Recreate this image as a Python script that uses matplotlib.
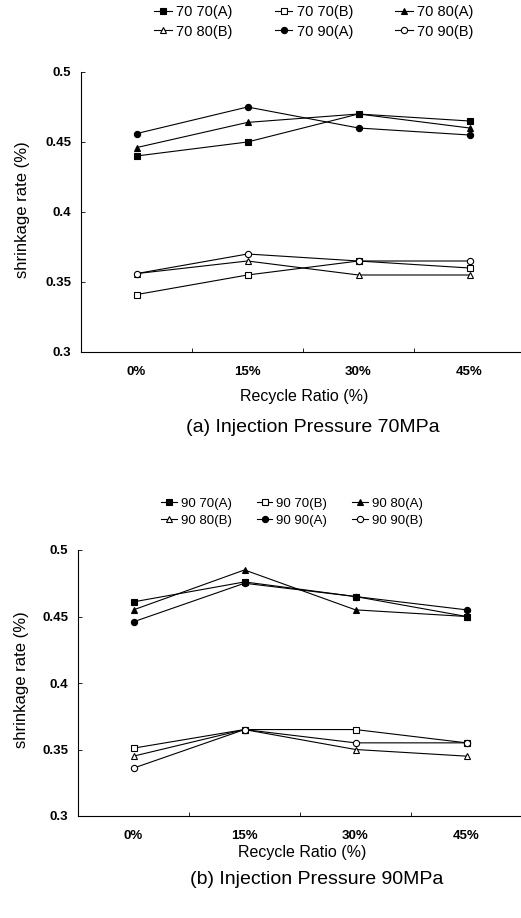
import matplotlib
matplotlib.use("Agg")
import matplotlib.pyplot as plt

plt.rcParams['font.family'] = ['Liberation Sans', 'DejaVu Sans']

ratios = ['0%', '15%', '30%', '45%']

# injection pressure 70MPa
p70_7070A = [0.440, 0.450, 0.470, 0.465]
p70_7070B = [0.341, 0.355, 0.365, 0.360]
p70_7080A = [0.446, 0.464, 0.470, 0.460]
p70_7080B = [0.356, 0.365, 0.355, 0.355]
p70_7090A = [0.456, 0.475, 0.460, 0.455]
p70_7090B = [0.356, 0.370, 0.365, 0.365]

# injection pressure 90MPa
p90_9070A = [0.461, 0.476, 0.465, 0.450]
p90_9070B = [0.351, 0.365, 0.365, 0.355]
p90_9080A = [0.455, 0.485, 0.455, 0.450]
p90_9080B = [0.345, 0.365, 0.350, 0.345]
p90_9090A = [0.446, 0.475, 0.465, 0.455]
p90_9090B = [0.336, 0.365, 0.355, 0.355]

labels_70 = ['70 70(A)', '70 70(B)', '70 80(A)', '70 80(B)', '70 90(A)', '70 90(B)']
labels_90 = ['90 70(A)', '90 70(B)', '90 80(A)', '90 80(B)', '90 90(A)', '90 90(B)']

markers = ['s', 's', '^', '^', 'o', 'o']
fills = ['k', 'white', 'k', 'white', 'k', 'white']

W, H = 521, 918
fig = plt.figure(figsize=(W / 100, H / 100), dpi=100)


def px(x, y):
    return x / W, 1 - y / H


def draw_panel(ax, series, labels, leg_center, leg_fs, colspace, xlab_x, xlab_y,
               title, title_x, title_y, ylab_x, ylab_y):
    x = list(range(len(ratios)))
    handles = []
    for vals, lab, m, fc in zip(series, labels, markers, fills):
        h, = ax.plot(x, vals, color='k', lw=0.8, marker=m, ms=4.5,
                     mfc=fc, mec='k', mew=0.8, label=lab)
        handles.append(h)
    ax.set_xlim(-0.5, 3.5)
    ax.set_ylim(0.3, 0.5)
    ax.set_yticks([0.3, 0.35, 0.4, 0.45, 0.5])
    ax.set_yticklabels(['0.3', '0.35', '0.4', '0.45', '0.5'])
    # tick marks between categories, labels under category centres
    ax.set_xticks([0.5, 1.5, 2.5])
    ax.set_xticklabels([])
    ax.set_xticks(x, minor=True)
    ax.set_xticklabels(ratios, minor=True, fontsize=9.5, fontweight='bold')
    ax.tick_params(axis='x', which='major', direction='in', length=3, width=0.6)
    ax.tick_params(axis='x', which='minor', length=0, pad=10)
    ax.tick_params(axis='y', direction='in', length=3, width=0.6, pad=7,
                   labelsize=9.5)
    for t in ax.get_yticklabels():
        t.set_fontweight('bold')
    for s in ['top', 'right']:
        ax.spines[s].set_visible(False)
    for s in ['left', 'bottom']:
        ax.spines[s].set_linewidth(0.8)

    order = [0, 3, 1, 4, 2, 5]
    fig.legend([handles[i] for i in order], [labels[i] for i in order],
               loc='center', bbox_to_anchor=px(*leg_center), ncol=3,
               frameon=False, fontsize=leg_fs, handlelength=1.2,
               handletextpad=0.3, columnspacing=colspace, labelspacing=0.35,
               borderpad=0)

    fig.text(*px(xlab_x, xlab_y), 'Recycle Ratio (%)', ha='center',
             va='center', fontsize=11.5)
    fig.text(*px(title_x, title_y), title, ha='center', va='center',
             fontsize=14)
    fig.text(*px(ylab_x, ylab_y), 'shrinkage rate (%)', ha='center',
             va='center', rotation=90, fontsize=12)


ax1 = fig.add_axes([81 / W, 1 - 352 / H, (525 - 81) / W, (352 - 72) / H])
draw_panel(ax1, [p70_7070A, p70_7070B, p70_7080A, p70_7080B, p70_7090A, p70_7090B],
           labels_70, (314, 22), 10.5, 2.9, 304, 397,
           '(a) Injection Pressure 70MPa', 313, 427, 23, 210)

ax2 = fig.add_axes([78 / W, 1 - 816 / H, (522 - 78) / W, (816 - 550) / H])
draw_panel(ax2, [p90_9070A, p90_9070B, p90_9080A, p90_9080B, p90_9090A, p90_9090B],
           labels_90, (292, 512), 9.5, 1.9, 302, 852,
           '(b) Injection Pressure 90MPa', 317, 880, 22, 680)

fig.savefig('out.png', dpi=100, facecolor='white')
